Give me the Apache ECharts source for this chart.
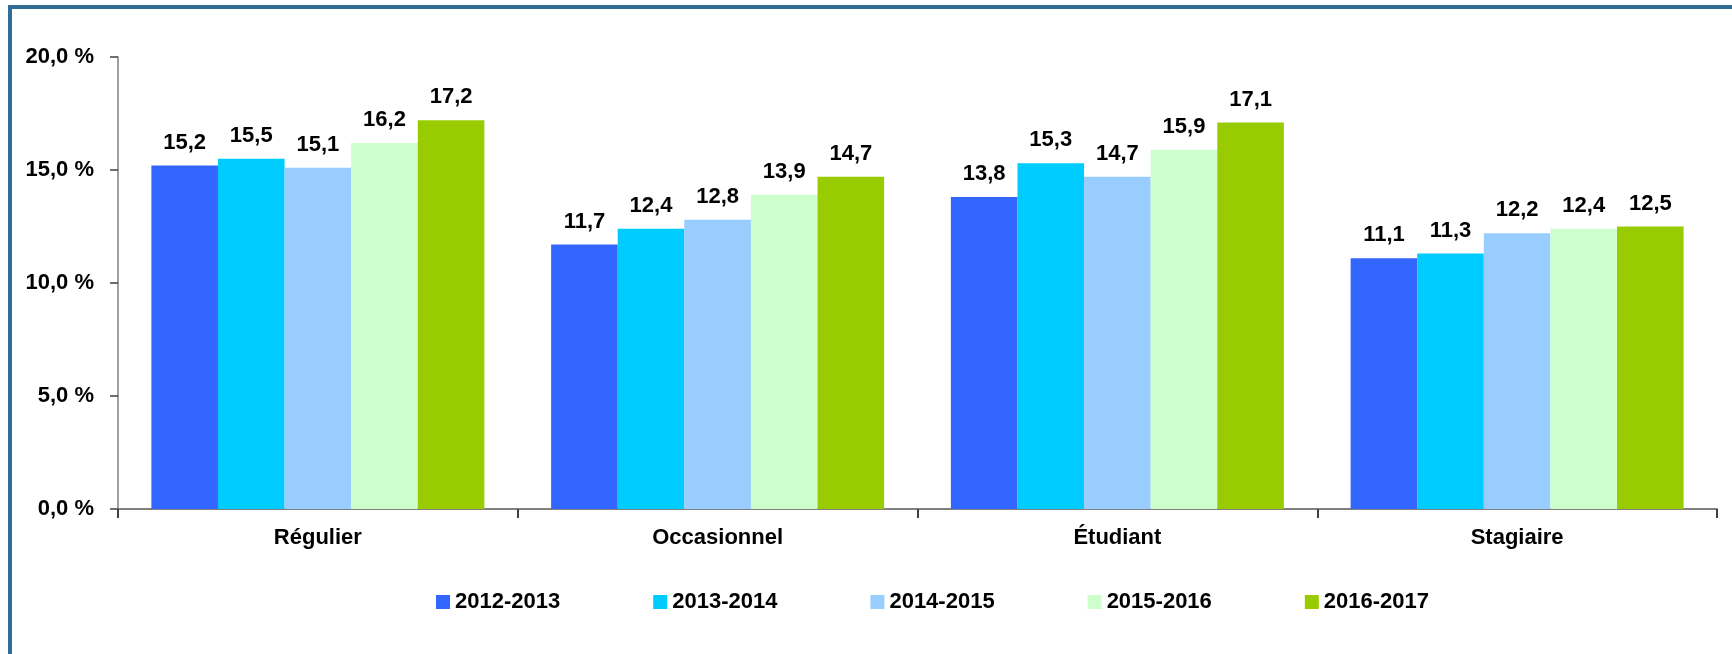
<!DOCTYPE html>
<html>
<head>
<meta charset="utf-8">
<script src="https://cdn.jsdelivr.net/npm/echarts@6/dist/echarts.min.js"></script>
<style>
html,body{margin:0;padding:0;background:#fff;overflow:hidden;}
#chart{width:1732px;height:654px;position:absolute;left:0;top:0;}
#frame{position:absolute;left:8px;top:5px;width:2000px;height:1000px;border-left:4px solid #2E6E96;border-top:4px solid #2E6E96;pointer-events:none;}
</style>
</head>
<body>
<div id="chart"></div>
<div id="frame"></div>
<script>
const categories = ['Régulier', 'Occasionnel', 'Étudiant', 'Stagiaire'];
const seriesNames = ['2012-2013', '2013-2014', '2014-2015', '2015-2016', '2016-2017'];
const v2012 = [15.2, 11.7, 13.8, 11.1];
const v2013 = [15.5, 12.4, 15.3, 11.3];
const v2014 = [15.1, 12.8, 14.7, 12.2];
const v2015 = [16.2, 13.9, 15.9, 12.4];
const v2016 = [17.2, 14.7, 17.1, 12.5];
const colors = ['#3366FF', '#00CCFF', '#99CCFF', '#CCFFCC', '#99CC00'];
const yTicks = [0, 5, 10, 15, 20];

const FONT = '"Liberation Sans", Arial, sans-serif';
const FS = 22;
const allValues = [v2012, v2013, v2014, v2015, v2016];
const fmt = v => v.toFixed(1).replace('.', ',');

const chart = echarts.init(document.getElementById('chart'), null, {renderer: 'canvas'});
chart.setOption({
  animation: false,
  backgroundColor: '#fff',
  grid: {left: 118, right: 15, top: 57, bottom: 145, containLabel: false},
  legend: {
    top: 591,
    left: 436,
    padding: 0,
    itemWidth: 14, itemHeight: 14, itemGap: 93,
    icon: 'rect',
    textStyle: {fontFamily: FONT, fontWeight: 'bold', fontSize: FS, color: '#000'},
    data: seriesNames
  },
  xAxis: {
    type: 'category',
    data: categories,
    axisLine: {lineStyle: {color: '#808080', width: 2}},
    axisTick: {show: true, length: 9, lineStyle: {color: '#404040', width: 2}},
    axisLabel: {fontFamily: FONT, fontWeight: 'bold', fontSize: FS, color: '#000', margin: 18}
  },
  yAxis: {
    type: 'value',
    min: yTicks[0], max: yTicks[yTicks.length - 1], interval: 5,
    splitLine: {show: false},
    axisLine: {show: true, lineStyle: {color: '#808080', width: 1.5}},
    axisTick: {show: true, length: 8, lineStyle: {color: '#404040', width: 1.5}},
    axisLabel: {fontFamily: FONT, fontWeight: 'bold', fontSize: FS, color: '#000', margin: 24,
      formatter: v => fmt(v) + ' %'}
  },
  series: seriesNames.map((name, i) => ({
    name: name,
    type: 'bar',
    data: allValues[i],
    barGap: '0%',
    barCategoryGap: '16.7%',
    itemStyle: {color: colors[i]},
    label: {show: true, position: 'top', distance: 12, fontFamily: FONT, fontWeight: 'bold', fontSize: FS, color: '#000',
      formatter: p => fmt(p.value)}
  }))
});
</script>
</body>
</html>
